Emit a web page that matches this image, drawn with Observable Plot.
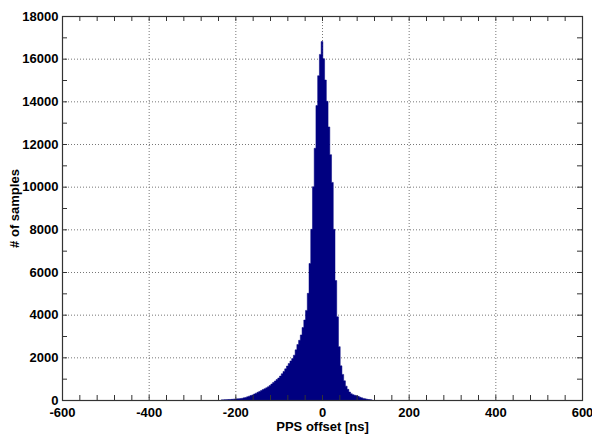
<!DOCTYPE html>
<html>
<head>
<meta charset="utf-8">
<script src="https://cdn.jsdelivr.net/npm/d3@7"></script>
<script src="https://cdn.jsdelivr.net/npm/@observablehq/plot@0.6"></script>
<style>
  html, body { margin: 0; padding: 0; background: #fff; }
</style>
</head>
<body>
<div id="chart"></div>
<script>
// Histogram bin centers (ns) and counts
const binWidth = 4;
const binCenters = [
  -232, -228, -224, -220, -216, -212, -208, -204, -200, -196, -192, -188, -184, -180, -176, -172, -168,
  -164, -160, -156, -152, -148, -144, -140, -136, -132, -128, -124, -120, -116, -112, -108, -104,
  -100, -96, -92, -88, -84, -80, -76, -72, -68, -64, -60, -56, -52, -48, -44, -40,
  -36, -32, -28, -24, -20, -16, -12, -8, -4, 0, 4, 8, 12, 16,
  20, 24, 28, 32, 36, 40, 44, 48, 52, 56, 60, 64, 68, 72,
  76, 80, 84, 88, 92, 96, 100, 104, 108, 112, 116
];
const binCounts = [
  0, 5, 10, 15, 20, 25, 30, 40, 50, 55, 60, 70, 80, 100, 120, 150, 180,
  210, 240, 280, 320, 360, 400, 440, 490, 530, 570, 620, 680, 750, 820, 890, 960,
  1030, 1120, 1230, 1340, 1460, 1590, 1710, 1830, 1940, 2100, 2350, 2600, 2800, 3050, 3400, 3750,
  4200, 5000, 6400, 8000, 10000, 11800, 13800, 15200, 16200, 16800, 16000, 15000, 14000, 12800,
  11500, 10200, 8000, 5600, 3900, 2500, 1600, 1200, 900, 650, 500, 370, 290, 250,
  220, 200, 170, 130, 100, 75, 55, 35, 20, 8, 0
];

// Axis ticks
const xTicks = [-600, -400, -200, 0, 200, 400, 600];
const yTicks = [0, 2000, 4000, 6000, 8000, 10000, 12000, 14000, 16000, 18000];
const xMinorTicks = d3.range(-600, 601, 40);
const yMinorTicks = d3.range(0, 18001, 1000);

const xLabel = "PPS offset [ns]";
const yLabel = "# of samples";

const bins = binCenters.map((c, i) => ({x: c, count: binCounts[i]}));

const W = 592, H = 434;
const mL = 62, mR = 10, mT = 16, mB = 34;
const innerW = W - mL - mR, innerH = H - mT - mB;
const tickLen = 5;
const navy = "#000080";

const chart = Plot.plot({
  width: W,
  height: H,
  marginLeft: mL,
  marginRight: mR,
  marginTop: mT,
  marginBottom: mB,
  style: {
    fontFamily: "'Liberation Sans', Arial, sans-serif",
    fontSize: "13px",
    fontWeight: "bold",
    color: "#000",
    background: "#fff",
    overflow: "visible"
  },
  x: {domain: [-600, 600]},
  y: {domain: [0, 18000]},
  marks: [
    Plot.gridX(xTicks, {stroke: "#777", strokeOpacity: 1, strokeDasharray: "1,2"}),
    Plot.gridY(yTicks, {stroke: "#777", strokeOpacity: 1, strokeDasharray: "1,2"}),
    Plot.areaY(bins, {x: "x", y: "count", curve: "step", fill: navy, stroke: navy, strokeWidth: 0.5}),
    // inward ticks on all four sides
    Plot.tickX(xMinorTicks, {x: d => d, insetTop: innerH - tickLen, stroke: "#333"}),
    Plot.tickX(xMinorTicks, {x: d => d, insetBottom: innerH - tickLen, stroke: "#333"}),
    Plot.tickY(yMinorTicks, {y: d => d, insetRight: innerW - tickLen, stroke: "#333"}),
    Plot.tickY(yMinorTicks, {y: d => d, insetLeft: innerW - tickLen, stroke: "#333"}),
    Plot.frame({stroke: "#333", strokeWidth: 1.2}),
    Plot.axisX(xTicks, {tickSize: 0, tickPadding: 7, label: null, tickFormat: d => String(d), fontWeight: "bold"}),
    Plot.axisY(yTicks, {tickSize: 0, tickPadding: 4, label: null, tickFormat: d => String(d), fontWeight: "bold"}),
    Plot.text([xLabel], {text: d => d, frameAnchor: "bottom", dy: 26, lineAnchor: "middle", fontWeight: "bold", fontSize: 13}),
    Plot.text([yLabel], {text: d => d, frameAnchor: "left", dx: -48, rotate: -90, textAnchor: "middle", lineAnchor: "middle", fontWeight: "bold", fontSize: 13})
  ]
});

document.getElementById("chart").appendChild(chart);
</script>
</body>
</html>
